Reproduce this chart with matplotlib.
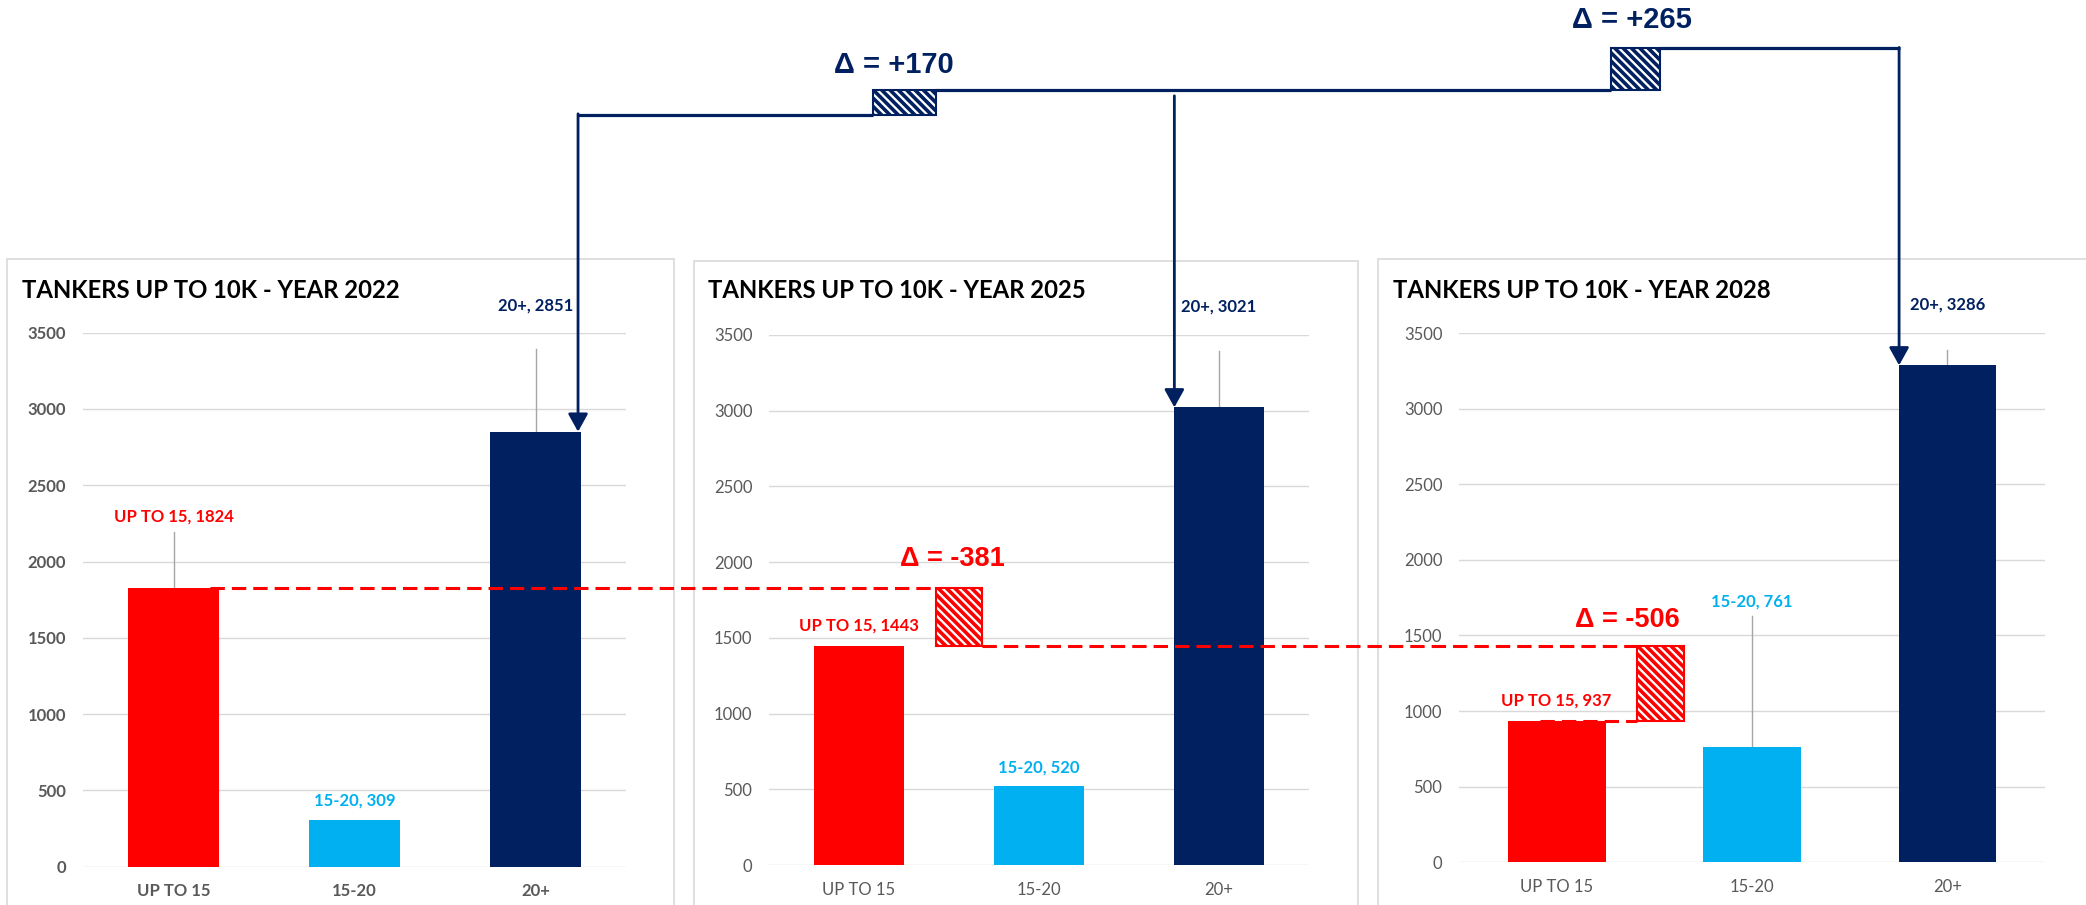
import matplotlib
matplotlib.use("Agg")
import matplotlib.pyplot as plt
from matplotlib.lines import Line2D
from matplotlib.patches import Rectangle, FancyArrowPatch

# data
categories = ["UP TO 15", "15-20", "20+"]
years = ["2022", "2025", "2028"]
up_to_15 = [1824, 1443, 937]
age_15_20 = [309, 520, 761]
age_20_plus = [2851, 3021, 3286]
yticks = [0, 500, 1000, 1500, 2000, 2500, 3000, 3500]

RED = "#FF0000"
CYAN = "#00B0F0"
NAVY = "#002060"
colors = [RED, CYAN, NAVY]

plt.rcParams['font.family'] = ['Lato', 'DejaVu Sans']
plt.rcParams['hatch.linewidth'] = 2.6

W, H = 2086, 905

def fx(px):
    return px / W

def fy(py):
    return 1 - py / H

# layout (pixels): axes left, right, y of 0, y of 3500
panel_px = [(83, 626, 866.7, 332.7), (769, 1309, 865, 334.8), (1459, 2045, 862.3, 333)]
frame_px = [(7, 259, 674), (694, 261, 1357.7), (1377.7, 259.3, 2110)]
title_px = [(22, 290), (708, 291), (1393, 290)]
# where excel put the data labels (data units)
label_y = [[2292, 437, 3681], [1578, 645, 3690], [1073, 1724, 3686]]

fig = plt.figure(figsize=(W / 100, H / 100), dpi=100)

axes = []
for k in range(3):
    l, r, b, t = panel_px[k]
    x0, ytop, x1 = frame_px[k]
    fig.add_artist(Rectangle((fx(x0), fy(H + 20)), fx(x1) - fx(x0), fy(ytop) - fy(H + 20),
                             transform=fig.transFigure, facecolor='none',
                             edgecolor='#d9d9d9', lw=1.2, zorder=0))
    fig.text(fx(title_px[k][0]), fy(title_px[k][1]), "TANKERS UP TO 10K - YEAR " + years[k],
             fontsize=17.2, fontweight='bold', color='black', va='center', ha='left')

    ax = fig.add_axes([fx(l), fy(b), (r - l) / W, (b - t) / H])
    vals = [up_to_15[k], age_15_20[k], age_20_plus[k]]
    ax.bar(range(3), vals, width=0.5, color=colors, zorder=3)
    ax.set_xlim(-0.5, 2.5)
    ax.set_ylim(0, 3500)
    ax.set_yticks(yticks)
    ax.set_xticks(range(3))
    ax.set_xticklabels(categories)
    ax.grid(axis='y', color='#d9d9d9', lw=1.0)
    ax.set_axisbelow(True)
    for s in ax.spines.values():
        s.set_visible(False)
    ax.tick_params(length=0, labelsize=12, labelcolor='#595959')
    ax.tick_params(axis='y', pad=12)
    ax.tick_params(axis='x', pad=12)
    if k == 0:
        for lab in ax.get_xticklabels() + ax.get_yticklabels():
            lab.set_fontweight('bold')

    for i in range(3):
        ly = label_y[k][i]
        ax.text(i, ly, f"{categories[i]}, {vals[i]}", ha='center', va='center',
                color=colors[i], fontsize=12, fontweight='bold', clip_on=False)
        if ly - vals[i] > 200:
            ax.plot([i, i], [min(ly - 95, 3390), vals[i]], color='#a6a6a6', lw=1,
                    zorder=2, clip_on=False)
    axes.append(ax)

ax1, ax2, ax3 = axes


def fig_pt(ax, x, y):
    return fig.transFigure.inverted().transform(ax.transData.transform((x, y)))


def hline(x1, x2, y, color, **kw):
    fig.add_artist(Line2D([x1, x2], [y, y], transform=fig.transFigure, color=color,
                          solid_capstyle='butt', dash_capstyle='butt', zorder=6, **kw))


def hatch_box(xl, xr, y1, y2, color):
    fig.add_artist(Rectangle((xl, min(y1, y2)), xr - xl, abs(y2 - y1), transform=fig.transFigure,
                             facecolor='white', edgecolor=color, hatch='\\\\\\\\', lw=1.5, zorder=7))


def down_arrow(x, ytop, ybot):
    fig.add_artist(FancyArrowPatch((x, ytop), (x, ybot), transform=fig.transFigure,
                                   arrowstyle='-|>,head_length=0.9,head_width=0.5',
                                   mutation_scale=12, color=NAVY, lw=2.0,
                                   shrinkA=0, shrinkB=0, zorder=6))


# ---- navy steps on top: 20+ growth
off = 317 / H
arr1 = fig_pt(ax1, 2.235, age_20_plus[0])
arr2 = fig_pt(ax2, 1.752, age_20_plus[1])
arr3 = fig_pt(ax3, 1.753, age_20_plus[2])
ya = arr1[1] + off
yb = arr2[1] + off
yc = arr3[1] + off
boxA = (fig_pt(ax2, 0.076, 0)[0], fig_pt(ax2, 0.426, 0)[0])
boxB = (fig_pt(ax3, 0.278, 0)[0], fig_pt(ax3, 0.529, 0)[0])

hline(arr1[0], boxA[0], ya, NAVY, lw=2.3)
down_arrow(arr1[0], ya + 0.001, arr1[1])
hatch_box(boxA[0], boxA[1], ya, yb, NAVY)
hline(boxA[1], boxB[0], yb, NAVY, lw=2.3)
down_arrow(arr2[0], yb - 0.006, arr2[1])
hatch_box(boxB[0], boxB[1], yb, yc, NAVY)
hline(boxB[1], arr3[0] + 0.0006, yc, NAVY, lw=2.3)
down_arrow(arr3[0], yc + 0.001, arr3[1])

d1 = age_20_plus[1] - age_20_plus[0]
d2 = age_20_plus[2] - age_20_plus[1]
fig.text(boxA[0] + fx(21), yb + 25 / H, f"\u0394 = {d1:+d}", color=NAVY, fontsize=21,
         fontweight='bold', family='Liberation Sans', ha='center', va='center')
fig.text(boxB[0] + fx(21), yc + 28 / H, f"\u0394 = {d2:+d}", color=NAVY, fontsize=21,
         fontweight='bold', family='Liberation Sans', ha='center', va='center')

# ---- red dashed steps: UP TO 15 decline
dash = (0, (4.7, 2.3))
r1 = fig_pt(ax1, 0.2, up_to_15[0])
r2 = fig_pt(ax2, 0.0, up_to_15[1])
r3 = fig_pt(ax3, -0.085, up_to_15[2])
boxC = (fig_pt(ax2, 0.428, 0)[0], fig_pt(ax2, 0.685, 0)[0])
boxD = (fig_pt(ax3, 0.41, 0)[0], fig_pt(ax3, 0.65, 0)[0])

hline(r1[0], boxC[0], r1[1], RED, lw=2.2, linestyle=dash)
hatch_box(boxC[0], boxC[1], r1[1], r2[1], RED)
hline(boxC[1], boxD[0], r2[1], RED, lw=2.2, linestyle=dash)
hline(r3[0], boxD[0], r3[1], RED, lw=2.2, linestyle=dash)
hatch_box(boxD[0], boxD[1], r2[1], r3[1], RED)

d3 = up_to_15[1] - up_to_15[0]
d4 = up_to_15[2] - up_to_15[1]
fig.text(boxC[0] + fx(16), r1[1] + 29 / H, f"\u0394 = {d3:+d}", color=RED, fontsize=19.5,
         fontweight='bold', family='Liberation Sans', ha='center', va='center')
fig.text(boxD[0] - fx(9), r2[1] + 26 / H, f"\u0394 = {d4:+d}", color=RED, fontsize=19.5,
         fontweight='bold', family='Liberation Sans', ha='center', va='center')

fig.savefig("out.png", dpi=100)
